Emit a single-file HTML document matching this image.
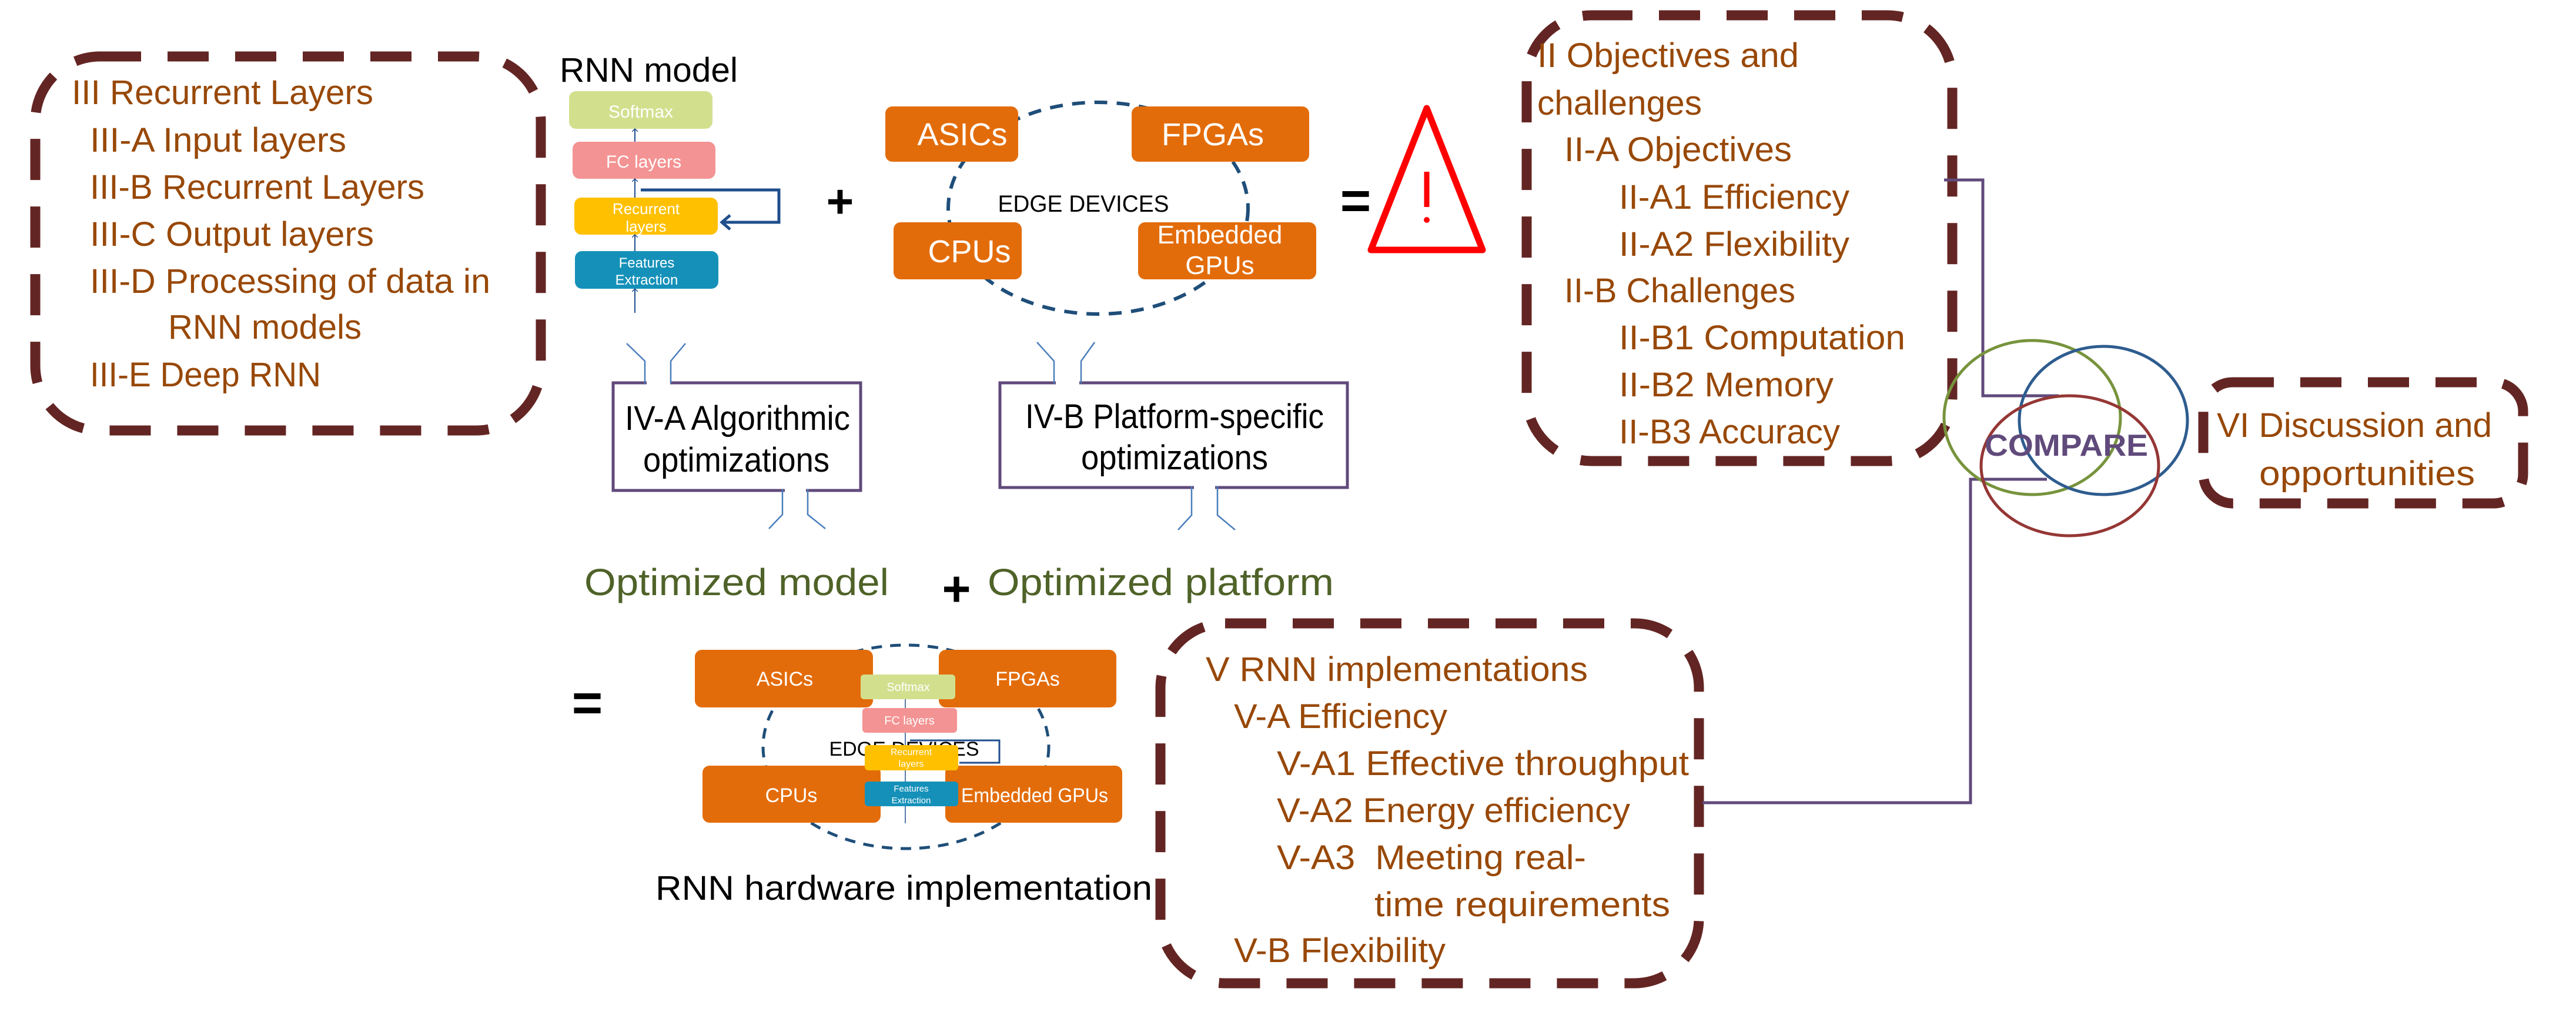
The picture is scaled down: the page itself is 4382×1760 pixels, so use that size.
<!DOCTYPE html>
<html><head><meta charset="utf-8"><style>
html,body{margin:0;padding:0;background:#fff;}
svg{display:block;}
text{font-family:"Liberation Sans",sans-serif;}
.br{fill:#984807;font-size:58px;}
.bk{fill:#000;font-size:58px;}
.gr{fill:#4f6228;font-size:64px;}
.wt{fill:#fff;}
</style></head><body>
<svg width="4382" height="1760" viewBox="0 0 4382 1760" xmlns="http://www.w3.org/2000/svg">
<defs>
<marker id="ah" markerWidth="10" markerHeight="10" refX="5" refY="5" orient="auto" markerUnits="userSpaceOnUse"><path d="M0,0 L5,5 L0,10" fill="none" stroke="#1f4e8c" stroke-width="1.5"/></marker>
</defs>
<g fill="none" stroke="#632523" stroke-width="17" stroke-dasharray="70 45">
<rect x="60" y="96" width="860" height="636" rx="110"/>
<rect x="2597" y="26" width="724" height="758" rx="110"/>
<rect x="3748" y="650" width="544" height="206" rx="50"/>
<rect x="1974" y="1060" width="916" height="612" rx="110"/>
</g>
<!-- left box text -->
<text class="br" x="122" y="177" textLength="513" lengthAdjust="spacingAndGlyphs">III Recurrent Layers</text>
<text class="br" x="153" y="258" textLength="436" lengthAdjust="spacingAndGlyphs">III-A Input layers</text>
<text class="br" x="153" y="338" textLength="569" lengthAdjust="spacingAndGlyphs">III-B Recurrent Layers</text>
<text class="br" x="153" y="418" textLength="483" lengthAdjust="spacingAndGlyphs">III-C Output layers</text>
<text class="br" x="153" y="498" textLength="681" lengthAdjust="spacingAndGlyphs">III-D Processing of data in</text>
<text class="br" x="286" y="576" textLength="329" lengthAdjust="spacingAndGlyphs">RNN models</text>
<text class="br" x="153" y="657" textLength="393" lengthAdjust="spacingAndGlyphs">III-E Deep RNN</text>
<!-- RNN model -->
<text class="bk" x="952" y="139" textLength="303" lengthAdjust="spacingAndGlyphs">RNN model</text>
<rect x="968" y="155" width="244" height="64" rx="12" fill="#d2e08e"/>
<rect x="974" y="241" width="243" height="63" rx="12" fill="#f49393"/>
<rect x="977" y="336" width="244" height="63" rx="12" fill="#ffc000"/>
<rect x="978" y="427" width="244" height="64" rx="12" fill="#1591b9"/>
<g class="wt" text-anchor="middle">
<text x="1090" y="200" font-size="30">Softmax</text>
<text x="1095" y="285" font-size="30">FC layers</text>
<text x="1099" y="364" font-size="26">Recurrent</text>
<text x="1099" y="394" font-size="26">layers</text>
<text x="1100" y="455" font-size="24">Features</text>
<text x="1100" y="484" font-size="24">Extraction</text>
</g>
<g stroke="#1f4e8c" stroke-width="2" fill="none">
<line x1="1080" y1="241" x2="1080" y2="219" marker-end="url(#ah)"/>
<line x1="1080" y1="336" x2="1080" y2="304" marker-end="url(#ah)"/>
<line x1="1080" y1="427" x2="1080" y2="399" marker-end="url(#ah)"/>
<line x1="1080" y1="532" x2="1080" y2="491" marker-end="url(#ah)"/>
</g>
<path d="M1090,323 H1325 V378 H1228" fill="none" stroke="#1f4e8c" stroke-width="5"/>
<path d="M1242,366 L1228,378 L1242,390" fill="none" stroke="#1f4e8c" stroke-width="5"/>
<text x="1429" y="370" font-size="80" text-anchor="middle" font-weight="bold">+</text>
<!-- edge devices -->
<ellipse cx="1868" cy="354" rx="255" ry="180" fill="none" stroke="#1f4e79" stroke-width="6" stroke-dasharray="22 16"/>
<g fill="#e36c0a">
<rect x="1506" y="181" width="226" height="94" rx="12"/>
<rect x="1925" y="181" width="302" height="94" rx="12"/>
<rect x="1520" y="378" width="218" height="97" rx="12"/>
<rect x="1936" y="378" width="303" height="97" rx="12"/>
</g>
<g class="wt" text-anchor="middle" font-size="54">
<text x="1637" y="247">ASICs</text>
<text x="2063" y="247">FPGAs</text>
<text x="1649" y="446">CPUs</text>
<text x="2075" y="414" font-size="44">Embedded</text>
<text x="2075" y="466" font-size="44">GPUs</text>
</g>
<text x="1843" y="360" font-size="40" text-anchor="middle" textLength="291" lengthAdjust="spacingAndGlyphs">EDGE DEVICES</text>
<text x="2306" y="372" font-size="90" text-anchor="middle" font-weight="bold">=</text>
<!-- warning -->
<polygon points="2427,184 2332,425 2522,425" fill="none" stroke="#ff0000" stroke-width="11" stroke-linejoin="round"/>
<line x1="2427" y1="292" x2="2427" y2="352" stroke="#ff0000" stroke-width="9"/>
<circle cx="2427" cy="374" r="5" fill="#ff0000"/>
<!-- II box text -->
<text class="br" x="2615" y="114" textLength="445" lengthAdjust="spacingAndGlyphs">II Objectives and</text>
<text class="br" x="2615" y="195" textLength="280" lengthAdjust="spacingAndGlyphs">challenges</text>
<text class="br" x="2661" y="274" textLength="387" lengthAdjust="spacingAndGlyphs">II-A Objectives</text>
<text class="br" x="2754" y="355" textLength="392" lengthAdjust="spacingAndGlyphs">II-A1 Efficiency</text>
<text class="br" x="2754" y="435" textLength="392" lengthAdjust="spacingAndGlyphs">II-A2 Flexibility</text>
<text class="br" x="2661" y="514" textLength="393" lengthAdjust="spacingAndGlyphs">II-B Challenges</text>
<text class="br" x="2754" y="594" textLength="487" lengthAdjust="spacingAndGlyphs">II-B1 Computation</text>
<text class="br" x="2754" y="674" textLength="365" lengthAdjust="spacingAndGlyphs">II-B2 Memory</text>
<text class="br" x="2754" y="754" textLength="376" lengthAdjust="spacingAndGlyphs">II-B3 Accuracy</text>
<!-- connectors -->
<path d="M3307,306 H3373 V673 H3502" fill="none" stroke="#604a7b" stroke-width="5"/>
<path d="M3482,815 H3352 V1365 H2896" fill="none" stroke="#604a7b" stroke-width="5"/>
<!-- venn -->
<ellipse cx="3457" cy="710" rx="150" ry="131" fill="none" stroke="#77933c" stroke-width="5"/>
<ellipse cx="3578" cy="715" rx="143" ry="126" fill="none" stroke="#2e5c8f" stroke-width="5"/>
<ellipse cx="3521" cy="792" rx="151" ry="119" fill="none" stroke="#953735" stroke-width="5"/>
<text x="3515" y="775" font-size="52" font-weight="bold" fill="#604a7b" text-anchor="middle" textLength="278" lengthAdjust="spacingAndGlyphs">COMPARE</text>
<!-- VI -->
<text class="br" x="3771" y="743" textLength="468" lengthAdjust="spacingAndGlyphs">VI Discussion and</text>
<text class="br" x="3843" y="825" textLength="367" lengthAdjust="spacingAndGlyphs">opportunities</text>
<!-- IV-A -->
<rect x="1043" y="651" width="421" height="183" fill="none" stroke="#604a7b" stroke-width="5"/>
<rect x="1100" y="645" width="40" height="12" fill="#fff"/>
<rect x="1335" y="828" width="36" height="12" fill="#fff"/>
<g fill="none" stroke="#4a7ebb" stroke-width="2.5">
<path d="M1066,584 L1097,614 V652"/><path d="M1166,584 L1141,614 V652"/>
<path d="M1331,832 V875 L1308,899"/><path d="M1374,832 V875 L1404,899"/>
</g>
<text class="bk" x="1063" y="731" textLength="383" lengthAdjust="spacingAndGlyphs">IV-A Algorithmic</text>
<text class="bk" x="1094" y="802" textLength="317" lengthAdjust="spacingAndGlyphs">optimizations</text>
<!-- IV-B -->
<rect x="1701" y="651" width="591" height="178" fill="none" stroke="#604a7b" stroke-width="5"/>
<rect x="1796" y="645" width="40" height="12" fill="#fff"/>
<rect x="2031" y="823" width="36" height="12" fill="#fff"/>
<g fill="none" stroke="#4a7ebb" stroke-width="2.5">
<path d="M1764,582 L1793,614 V652"/><path d="M1862,582 L1839,614 V652"/>
<path d="M2027,827 V876 L2004,901"/><path d="M2071,827 V876 L2101,901"/>
</g>
<text class="bk" x="1744" y="728" textLength="508" lengthAdjust="spacingAndGlyphs">IV-B Platform-specific</text>
<text class="bk" x="1839" y="798" textLength="318" lengthAdjust="spacingAndGlyphs">optimizations</text>
<!-- optimized -->
<text class="gr" x="994" y="1012" textLength="518" lengthAdjust="spacingAndGlyphs">Optimized model</text>
<text x="1627" y="1030" font-size="84" text-anchor="middle" font-weight="bold">+</text>
<text class="gr" x="1680" y="1012" textLength="589" lengthAdjust="spacingAndGlyphs">Optimized platform</text>
<text x="999" y="1226" font-size="90" text-anchor="middle" font-weight="bold">=</text>
<!-- hardware implementation -->
<ellipse cx="1541" cy="1270" rx="243" ry="173" fill="none" stroke="#1f4e79" stroke-width="5" stroke-dasharray="18 14"/>
<g fill="#e36c0a">
<rect x="1182" y="1105" width="303" height="98" rx="12"/>
<rect x="1597" y="1105" width="302" height="98" rx="12"/>
<rect x="1195" y="1302" width="303" height="97" rx="12"/>
<rect x="1608" y="1302" width="301" height="97" rx="12"/>
</g>
<g class="wt" font-size="34" text-anchor="middle">
<text x="1335" y="1166">ASICs</text>
<text x="1748" y="1166">FPGAs</text>
<text x="1346" y="1364">CPUs</text>
<text x="1760" y="1364" textLength="250" lengthAdjust="spacingAndGlyphs">Embedded GPUs</text>
</g>
<text x="1538" y="1285" font-size="34" text-anchor="middle">EDGE DEVICES</text>
<rect x="1464" y="1147" width="161" height="42" rx="6" fill="#d2e08e"/>
<rect x="1467" y="1204" width="161" height="42" rx="6" fill="#f49393"/>
<rect x="1471" y="1267" width="159" height="43" rx="6" fill="#ffc000"/>
<rect x="1471" y="1329" width="159" height="42" rx="6" fill="#1591b9"/>
<g class="wt" text-anchor="middle">
<text x="1545" y="1175" font-size="20">Softmax</text>
<text x="1547" y="1232" font-size="20">FC layers</text>
<text x="1550" y="1284" font-size="16">Recurrent</text>
<text x="1550" y="1304" font-size="16">layers</text>
<text x="1550" y="1346" font-size="15">Features</text>
<text x="1550" y="1366" font-size="15">Extraction</text>
</g>
<g stroke="#1f4e8c" stroke-width="1.5">
<line x1="1540" y1="1204" x2="1540" y2="1189"/><line x1="1540" y1="1267" x2="1540" y2="1246"/>
<line x1="1540" y1="1329" x2="1540" y2="1310"/><line x1="1540" y1="1400" x2="1540" y2="1371"/>
</g>
<path d="M1548,1259 H1700 V1297 H1632" fill="none" stroke="#1f4e8c" stroke-width="3"/>
<text class="bk" x="1115" y="1530" font-size="62" textLength="845" lengthAdjust="spacingAndGlyphs">RNN hardware implementation</text>
<!-- V box text -->
<text class="br" x="2051" y="1158" textLength="650" lengthAdjust="spacingAndGlyphs">V RNN implementations</text>
<text class="br" x="2099" y="1238" textLength="363" lengthAdjust="spacingAndGlyphs">V-A Efficiency</text>
<text class="br" x="2172" y="1318" textLength="701" lengthAdjust="spacingAndGlyphs">V-A1 Effective throughput</text>
<text class="br" x="2172" y="1398" textLength="601" lengthAdjust="spacingAndGlyphs">V-A2 Energy efficiency</text>
<text class="br" x="2172" y="1478" textLength="526" lengthAdjust="spacingAndGlyphs" xml:space="preserve">V-A3  Meeting real-</text>
<text class="br" x="2338" y="1558" textLength="503" lengthAdjust="spacingAndGlyphs">time requirements</text>
<text class="br" x="2099" y="1636" textLength="360" lengthAdjust="spacingAndGlyphs">V-B Flexibility</text>
</svg>
</body></html>
